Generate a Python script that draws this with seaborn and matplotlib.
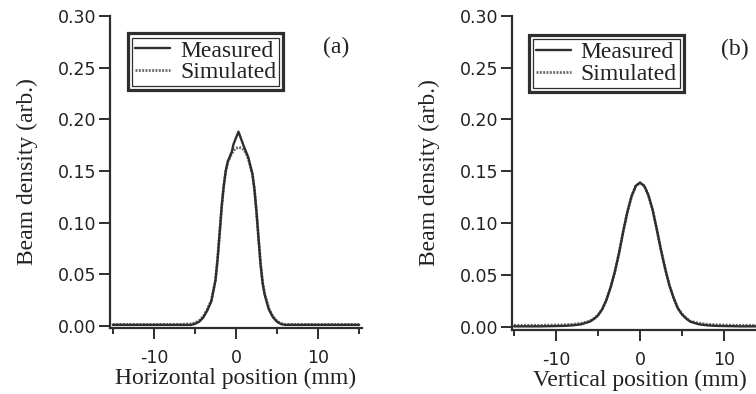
import matplotlib
matplotlib.use("Agg")
import matplotlib.pyplot as plt
from matplotlib.patches import Rectangle
from matplotlib.ticker import FixedLocator
import seaborn as sns
import pandas as pd

# ---------------- data ----------------
# panel (a): horizontal profile
h_meas_x = [-15, -10, -7, -5.5, -5, -4.5, -4, -3.5, -3, -2.5, -2.25, -2, -1.75, -1.5,
            -1.25, -1, -0.5, -0.3, 0.3, 0.9, 1.25, 1.5, 2, 2.25, 2.5, 2.75, 3, 3.25,
            3.5, 4, 4.5, 5, 5.5, 6, 10, 15]
h_meas_y = [0.001, 0.001, 0.001, 0.001, 0.002, 0.004, 0.008, 0.015, 0.024, 0.044, 0.064,
            0.089, 0.115, 0.135, 0.150, 0.159, 0.169, 0.176, 0.188, 0.175, 0.168, 0.163,
            0.147, 0.132, 0.110, 0.084, 0.059, 0.041, 0.030, 0.016, 0.0085, 0.004,
            0.0017, 0.001, 0.001, 0.001]
h_sim_x = [-15, -10, -7, -5.5, -5, -4.5, -4, -3.5, -3, -2.5, -2.25, -2, -1.75, -1.5,
           -1.25, -1, -0.5, -0.25, 0, 0.35, 0.75, 1, 1.25, 1.5, 2, 2.25, 2.5, 2.75, 3,
           3.25, 3.5, 4, 4.5, 5, 5.5, 6, 10, 15]
h_sim_y = [0.0015, 0.0015, 0.0015, 0.002, 0.003, 0.005, 0.009, 0.016, 0.025, 0.045, 0.064,
           0.089, 0.115, 0.135, 0.150, 0.159, 0.167, 0.170, 0.172, 0.173, 0.172, 0.170,
           0.167, 0.162, 0.147, 0.132, 0.110, 0.085, 0.060, 0.042, 0.031, 0.017, 0.009,
           0.0045, 0.0025, 0.0015, 0.0015, 0.0015]

# panel (b): vertical profile
v_meas_x = [-15, -12, -10, -9, -8, -7, -6, -5.5, -5, -4.5, -4, -3.5, -3, -2.5, -2, -1.5,
            -1, -0.5, 0, 0.5, 1, 1.5, 2, 2.5, 3, 3.5, 4, 4.5, 5, 5.5, 6, 7, 8, 9, 10,
            12, 15]
v_meas_y = [0.0005, 0.0005, 0.0008, 0.001, 0.0015, 0.0025, 0.005, 0.0075, 0.011, 0.017,
            0.026, 0.038, 0.053, 0.071, 0.092, 0.111, 0.126, 0.136, 0.139, 0.136, 0.127,
            0.113, 0.094, 0.074, 0.056, 0.040, 0.028, 0.018, 0.012, 0.008, 0.005, 0.0025,
            0.0015, 0.001, 0.0008, 0.0005, 0.0005]
v_sim_x = v_meas_x
v_sim_y = [0.0015, 0.0015, 0.0018, 0.002, 0.0025, 0.0035, 0.0055, 0.008, 0.0115, 0.017,
           0.026, 0.038, 0.053, 0.071, 0.092, 0.111, 0.126, 0.136, 0.139, 0.136, 0.127,
           0.113, 0.094, 0.074, 0.056, 0.040, 0.028, 0.018, 0.0125, 0.0085, 0.0055,
           0.0035, 0.0025, 0.002, 0.0018, 0.0015, 0.0015]

series_labels = ["Measured", "Simulated"]
x_labels = ["Horizontal position (mm)", "Vertical position (mm)"]
y_label = "Beam density (arb.)"
panel_tags = ["(a)", "(b)"]
y_ticks = [0.00, 0.05, 0.10, 0.15, 0.20, 0.25, 0.30]
x_major = [-10, 0, 10]
x_minor = [-15, -5, 5, 15]

# ---------------- style ----------------
sns.set_theme(style="ticks")
plt.rcParams["font.family"] = ["Liberation Serif", "DejaVu Serif"]
INK = "#2e2e2e"
TXT = "#222222"
SERIF = "Liberation Serif"
SANS = "DejaVu Sans"
FS = 17

W, H = 756, 394
fig = plt.figure(figsize=(W / 100, H / 100), dpi=100)
fig.patch.set_facecolor("white")

def px_axes(x0, y_top, x1, y_bot):
    return [x0 / W, 1 - y_bot / H, (x1 - x0) / W, (y_bot - y_top) / H]

ax_a = fig.add_axes(px_axes(110, 16, 362, 328))
ax_b = fig.add_axes(px_axes(512, 15.7, 768, 330))

panels = [
    (ax_a, h_meas_x, h_meas_y, h_sim_x, h_sim_y, (-15.35, 15.35), (-0.002, 0.30),
     (0.0714, 0.9455), (0.897, 0.90)),
    (ax_b, v_meas_x, v_meas_y, v_sim_x, v_sim_y, (-15.24, 15.24), (-0.003, 0.30),
     (0.066, 0.939), (0.871, 0.892)),
]

legends = []
for i, (ax, mx, my, sx, sy, xl, yl, leg_xy, tag_xy) in enumerate(panels):
    dm = pd.DataFrame({"x": mx, "y": my})
    ds = pd.DataFrame({"x": sx, "y": sy})
    sns.lineplot(data=ds, x="x", y="y", ax=ax, color="#6a6a6a", lw=2.0,
                 linestyle=(0, (0.7, 0.5)), label=series_labels[1], estimator=None, sort=False)
    sns.lineplot(data=dm, x="x", y="y", ax=ax, color=INK, lw=1.7,
                 label=series_labels[0], estimator=None, sort=False)
    ax.set_xlim(*xl)
    ax.set_ylim(*yl)
    ax.yaxis.set_major_locator(FixedLocator(y_ticks))
    ax.set_yticklabels([f"{v:.2f}" for v in y_ticks])
    ax.xaxis.set_major_locator(FixedLocator(x_major))
    ax.xaxis.set_minor_locator(FixedLocator(x_minor))
    ax.set_xticklabels([str(v) for v in x_major])
    sns.despine(ax=ax)
    for s in ("left", "bottom"):
        ax.spines[s].set_color(INK)
        ax.spines[s].set_linewidth(1.6)
    ax.tick_params(axis="both", which="major", direction="out", length=8, width=1.4,
                   color=INK, labelcolor=TXT)
    ax.tick_params(axis="y", pad=2)
    ax.tick_params(axis="x", pad=7)
    ax.tick_params(axis="x", which="minor", direction="out", length=4.5, width=1.4,
                   color=INK)
    for lab in ax.get_xticklabels() + ax.get_yticklabels():
        lab.set_fontfamily(SANS)
        lab.set_fontsize(12.5)
    ax.set_xlabel(x_labels[i], fontsize=FS, family=SERIF, color=TXT, labelpad=1)
    ax.set_ylabel(y_label, fontsize=FS, family=SERIF, color=TXT, labelpad=14)
    ax.set_facecolor("white")
    ax.grid(False)

    handles, labels = ax.get_legend_handles_labels()
    order = [labels.index(series_labels[0]), labels.index(series_labels[1])]
    leg = ax.legend([handles[k] for k in order], [labels[k] for k in order],
                    loc="upper left", bbox_to_anchor=leg_xy, borderaxespad=0,
                    frameon=True, fancybox=False, framealpha=1, edgecolor=INK,
                    prop={"family": SERIF, "size": FS}, handlelength=1.5,
                    handletextpad=0.4, labelspacing=0.0, borderpad=0.3)
    leg.get_frame().set_linewidth(2.3)
    for t in leg.get_texts():
        t.set_color(TXT)
    legends.append(leg)

    ax.text(tag_xy[0], tag_xy[1], panel_tags[i], transform=ax.transAxes,
            ha="center", va="center", fontsize=FS, family=SERIF, color=TXT)

# inner line of the double legend frame
fig.canvas.draw()
for leg in legends:
    bb = leg.get_frame().get_window_extent()
    ins = 4.5
    fig.add_artist(Rectangle(((bb.x0 + ins) / W, (bb.y0 + ins) / H),
                             (bb.width - 2 * ins) / W, (bb.height - 2 * ins) / H,
                             transform=fig.transFigure, fill=False, lw=0.9, ec=INK,
                             zorder=10))

fig.savefig("out.png", dpi=100, facecolor="white")
